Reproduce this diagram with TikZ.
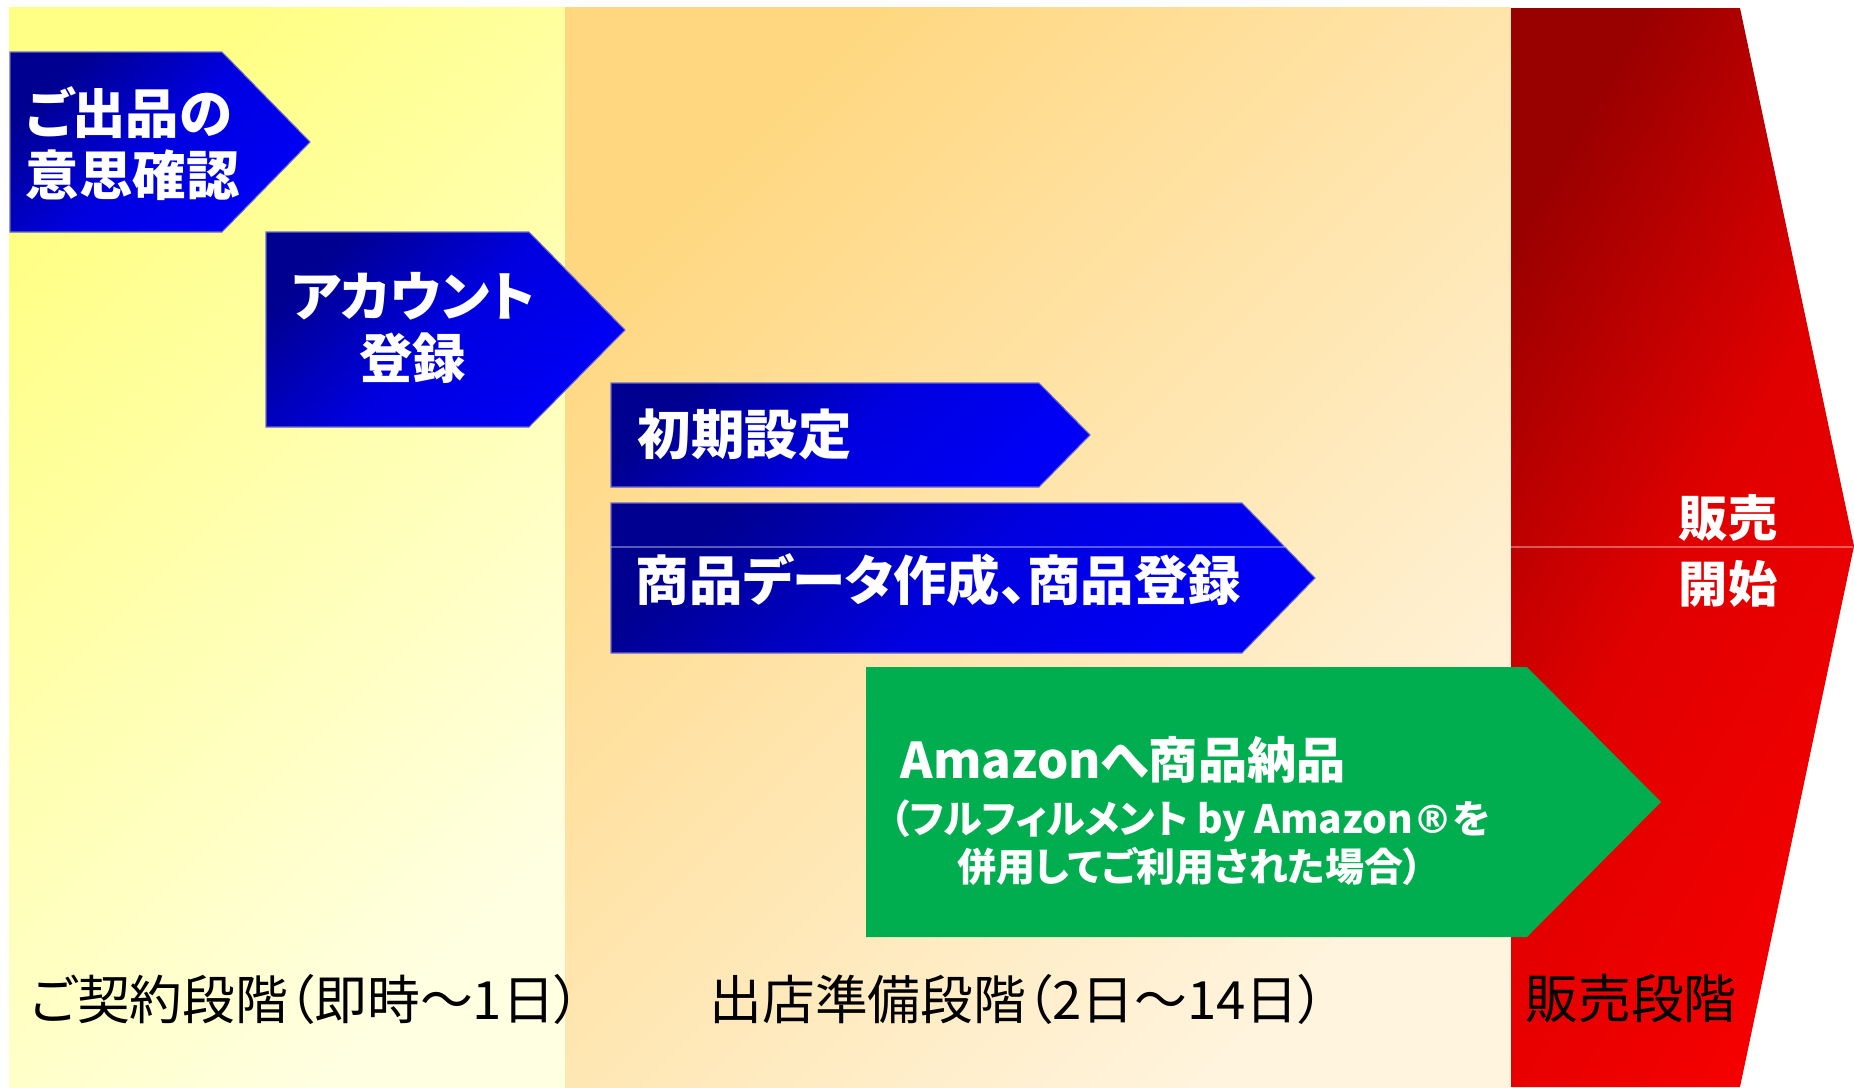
\documentclass[tikz,border=0pt]{standalone}
\usepackage{fontspec}
\setmainfont{Noto Sans CJK JP}[RawFeature=+palt]
\newfontfamily\regfont{DejaVu Sans}
\definecolor{ylwA}{HTML}{FFFF85}
\definecolor{ylwB}{HTML}{FFFFE2}
\definecolor{orgA}{HTML}{FFD780}
\definecolor{orgB}{HTML}{FFF4DE}
\definecolor{redA}{HTML}{990000}
\definecolor{redM}{HTML}{E00000}
\definecolor{redB}{HTML}{F40000}
\definecolor{navyA}{HTML}{000090}
\definecolor{navyM}{HTML}{0000E0}
\definecolor{navyB}{HTML}{0000F6}
\definecolor{fbagreen}{HTML}{00AE50}
\definecolor{stepedge}{HTML}{6A6AC8}
\begin{document}
\begin{tikzpicture}[x=0.01cm, y=-0.01cm,
        stepshade/.style={top color=navyA, bottom color=navyB, middle color=navyM, shading angle=45, draw=stepedge, line width=0.3pt},
        steptext/.style={text=white, inner sep=0pt, font=\fontsize{15.2}{17.6}\selectfont\bfseries},
        stagetext/.style={text=black, inner sep=0pt, anchor=west, font=\fontsize{15}{17}\selectfont},
        splitline/.style={white, opacity=0.35, line width=0.3pt}]
            \useasboundingbox ( 0, 0 ) rectangle ( 1854, 1087 );
            % фон
            \path [top color=ylwA, bottom color=ylwB, shading angle=45] ( 9, 7 ) rectangle ( 565, 1087 );
            \path [top color=orgA, bottom color=orgB, shading angle=45] ( 565, 7 ) rectangle ( 1511, 1087 );
            \path [top color=redA, bottom color=redB, middle color=redM, shading angle=60] ( 1511, 8 ) -- ( 1740, 8 ) -- ( 1854, 546 ) -- ( 1740, 1087 ) -- ( 1511, 1087 ) -- cycle;
            \draw [splitline] ( 1511, 547 ) -- ( 1853, 547 );

            % шаги
            \path [stepshade] ( 10, 52 ) -- ( 222, 52 ) -- ( 310, 142 ) -- ( 222, 232 ) -- ( 10, 232 ) -- cycle;
            \path [stepshade] ( 266, 232 ) -- ( 529, 232 ) -- ( 625, 330 ) -- ( 529, 427 ) -- ( 266, 427 ) -- cycle;
            \path [stepshade] ( 611, 383 ) -- ( 1039, 383 ) -- ( 1090, 435 ) -- ( 1039, 487 ) -- ( 611, 487 ) -- cycle;
            \path [stepshade] ( 611, 503 ) -- ( 1242, 503 ) -- ( 1315, 578 ) -- ( 1242, 653 ) -- ( 611, 653 ) -- cycle;
            \draw [splitline] ( 611, 547 ) -- ( 1285, 547 );
            \path [fill=fbagreen] ( 866, 667 ) -- ( 1527, 667 ) -- ( 1661, 802 ) -- ( 1527, 937 ) -- ( 866, 937 ) -- cycle;

            % надписи
            \node [steptext, anchor=west, align=left] (intent) at ( 25, 144 ) {ご出品の\\意思確認};
            \node [steptext, align=center] (account) at ( 413, 328 ) {アカウント\\登録};
            \node [steptext, anchor=west] (setup) at ( 637, 434 ) {初期設定};
            \node [steptext, anchor=west] (listing) at ( 635, 580 ) {商品データ作成、商品登録};
            \node [steptext, anchor=west, font=\fontsize{14}{17}\selectfont\bfseries] (delivery) at ( 900, 760 ) {Amazonへ商品納品};
            \node [steptext, align=center, font=\fontsize{11.1}{13.7}\selectfont\bfseries] (fbanote) at ( 1190, 843 ) {（フルフィルメント by Amazon{\regfont ®}を\\併用してご利用された場合）};
            \node [steptext, align=center, font=\fontsize{14}{18.8}\selectfont\bfseries] (salestart) at ( 1728, 551 ) {販売\\開始};

            % этапы
            \node [stagetext] (contract) at ( 30, 999 ) {ご契約段階（即時～1日）};
            \node [stagetext] (prepare) at ( 709, 999 ) {出店準備段階（2日～14日）};
            \node [stagetext] (selling) at ( 1525, 999 ) {販売段階};
        \end{tikzpicture}
\end{document}
